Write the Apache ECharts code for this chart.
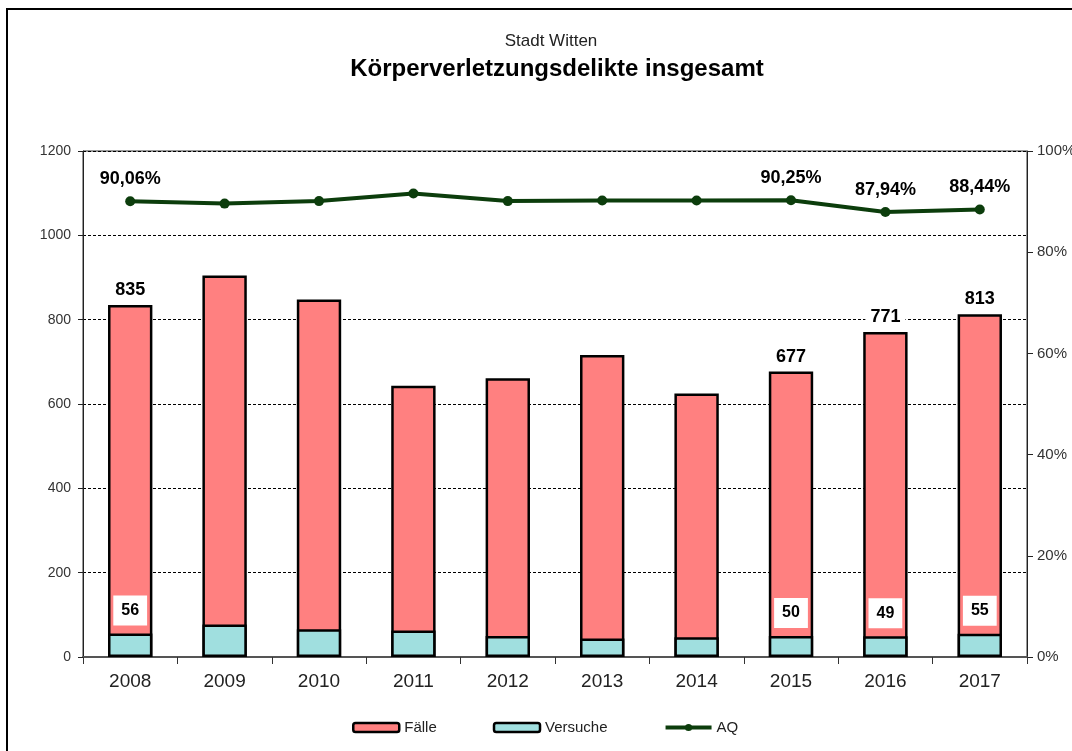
<!DOCTYPE html>
<html>
<head>
<meta charset="utf-8">
<script src="https://cdn.jsdelivr.net/npm/echarts@6/dist/echarts.min.js"></script>
<style>
  html, body { margin: 0; padding: 0; background: #fff; }
  #chart { width: 1072px; height: 751px; }
</style>
</head>
<body>
<div id="chart"></div>
<script>
const years = ["2008", "2009", "2010", "2011", "2012", "2013", "2014", "2015", "2016", "2017"];
const faelle = [835, 905, 848, 643, 661, 716, 625, 677, 771, 813];
const versuche = [56, 77, 66, 63, 50, 44, 47, 50, 49, 55];
const aq = [90.06, 89.6, 90.1, 91.6, 90.1, 90.2, 90.2, 90.25, 87.94, 88.44];
const leftTicks = [0, 200, 400, 600, 800, 1000, 1200];
const rightTicks = [0, 20, 40, 60, 80, 100];

// which points carry a value label in the original
const faelleLabeled = [0, 7, 8, 9];
const versucheLabeled = [0, 7, 8, 9];
const aqLabeled = [0, 7, 8, 9];

const font = "Liberation Sans";
const chart = echarts.init(document.getElementById("chart"));

const withLabels = (values, shown) =>
  values.map((v, i) => (shown.includes(i) ? { value: v, label: { show: true } } : v));

const option = {
  animation: false,
  textStyle: { fontFamily: font },
  title: [
    {
      text: "Stadt Witten",
      left: 546, top: 28, textAlign: "center",
      textStyle: { fontSize: 17, fontWeight: "normal", color: "#222", fontFamily: font },
    },
    {
      text: "Körperverletzungsdelikte insgesamt",
      left: 552, top: 52, textAlign: "center",
      textStyle: { fontSize: 24, fontWeight: "bold", color: "#000", fontFamily: font },
    },
  ],
  graphic: [
    {
      type: "rect",
      shape: { x: 7, y: 9, width: 1100, height: 800 },
      style: { fill: "none", stroke: "#000", lineWidth: 2 },
      silent: true,
    },
  ],
  legend: {
    top: 715,
    left: 347,
    itemGap: 56,
    itemWidth: 46,
    itemHeight: 9,
    textStyle: { fontSize: 15, color: "#222", fontFamily: font },
    data: [
      { name: "Fälle", itemStyle: { borderColor: "#000", borderWidth: 2.5 } },
      { name: "Versuche", itemStyle: { borderColor: "#000", borderWidth: 2.5 } },
      { name: "AQ", lineStyle: { width: 4, color: "#0c3d0c" } },
    ],
  },
  grid: {
    left: 83, right: 45, top: 151, bottom: 94,
    outerBoundsMode: "none",
    containLabel: false,
    show: true, borderColor: "#333", borderWidth: 1,
  },
  xAxis: {
    type: "category",
    data: years,
    boundaryGap: true,
    axisLine: { lineStyle: { color: "#555", width: 2 } },
    axisTick: { show: true, interval: 0, length: 7, lineStyle: { color: "#333" } },
    axisLabel: { fontSize: 19, color: "#222", margin: 15, fontFamily: font },
  },
  yAxis: [
    {
      type: "value",
      min: leftTicks[0], max: leftTicks[leftTicks.length - 1], interval: 200,
      axisLine: { show: true, lineStyle: { color: "#222" } },
      axisTick: { show: true, length: 5, lineStyle: { color: "#222" } },
      axisLabel: { fontSize: 14, color: "#333", margin: 12, fontFamily: font, formatter: (v) => String(v) },
      splitLine: { show: true, lineStyle: { color: "#000", type: [3, 2], width: 1 } },
    },
    {
      type: "value",
      min: rightTicks[0], max: rightTicks[rightTicks.length - 1], interval: 20,
      axisLine: { show: true, lineStyle: { color: "#222" } },
      axisTick: { show: true, length: 6, lineStyle: { color: "#222" } },
      axisLabel: { fontSize: 15, color: "#333", margin: 10, formatter: "{value}%", fontFamily: font },
      splitLine: { show: false },
    },
  ],
  series: [
    {
      name: "Fälle",
      type: "bar",
      barWidth: "47%",
      barGap: "-100%",
      data: withLabels(faelle, faelleLabeled),
      itemStyle: { color: "#ff8080", borderColor: "#000", borderWidth: 2.5 },
      label: {
        show: false, position: "top", distance: 5,
        fontSize: 18, fontWeight: "bold", color: "#000",
        backgroundColor: "#fff", padding: [1, 5], fontFamily: font,
      },
      z: 2,
    },
    {
      name: "Versuche",
      type: "bar",
      barWidth: "47%",
      data: withLabels(versuche, versucheLabeled),
      itemStyle: { color: "#a0dfdf", borderColor: "#000", borderWidth: 2.5 },
      label: {
        show: false, position: "top", distance: 8,
        fontSize: 16, fontWeight: "bold", color: "#000",
        backgroundColor: "#fff", padding: [7, 8], fontFamily: font,
      },
      z: 3,
    },
    {
      name: "AQ",
      type: "line",
      yAxisIndex: 1,
      data: withLabels(aq, aqLabeled),
      symbol: "circle",
      symbolSize: 10,
      lineStyle: { color: "#0c3d0c", width: 4 },
      itemStyle: { color: "#0c3d0c" },
      label: {
        show: false, position: "top", distance: 8,
        fontSize: 18, fontWeight: "bold", color: "#000", fontFamily: font,
        formatter: (p) => p.value.toFixed(2).replace(".", ",") + "%",
      },
      z: 4,
    },
  ],
};

chart.setOption(option);
</script>
</body>
</html>
